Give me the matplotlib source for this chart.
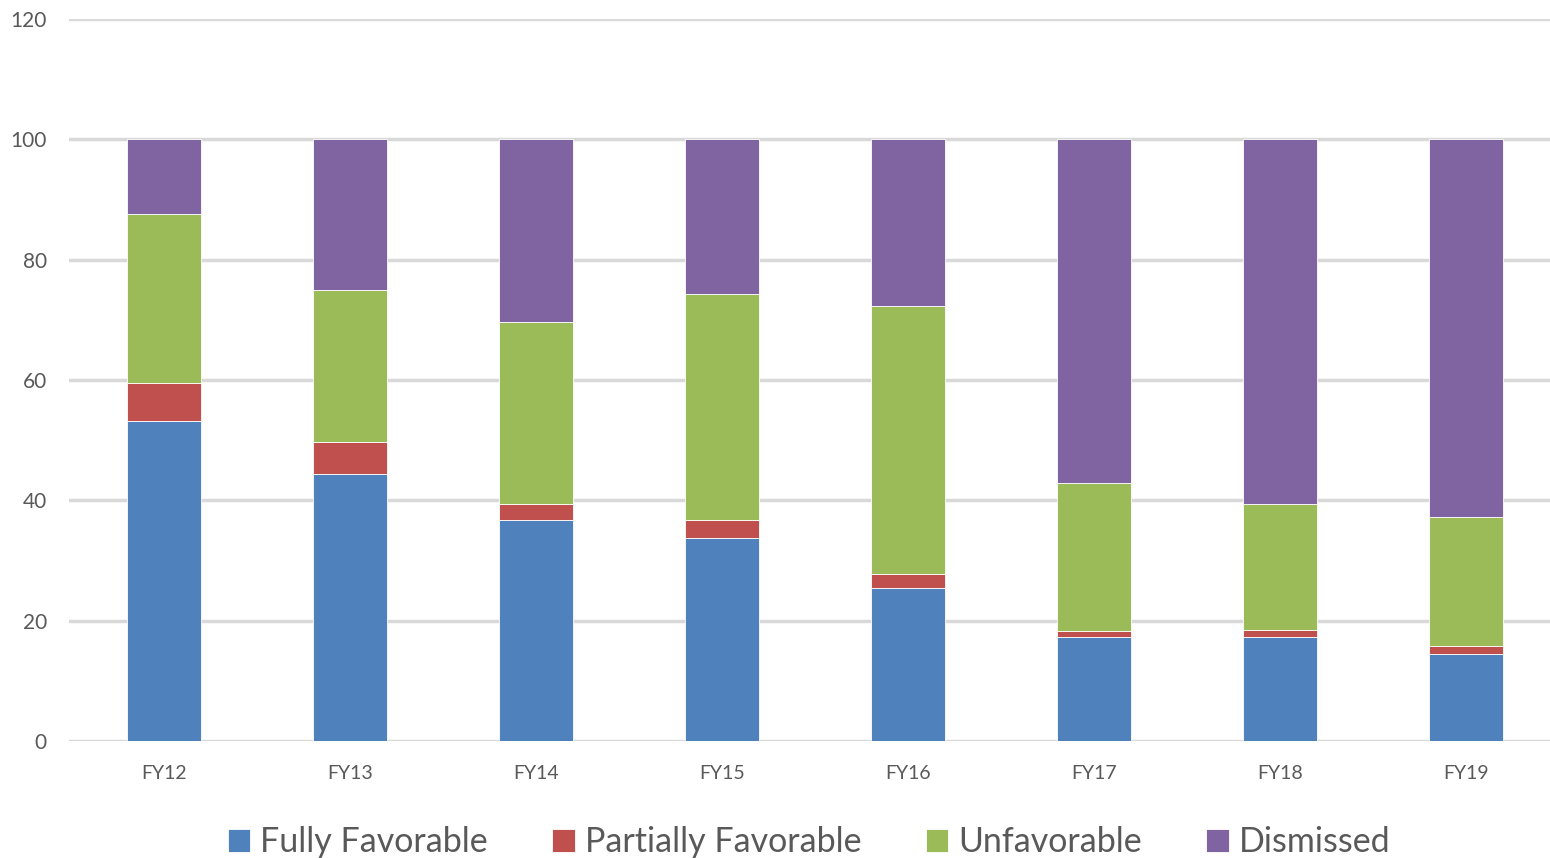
import matplotlib.pyplot as plt
import numpy as np

years = ['FY12', 'FY13', 'FY14', 'FY15', 'FY16', 'FY17', 'FY18', 'FY19']
fully_favorable = [53.2, 44.3, 36.8, 33.7, 25.5, 17.2, 17.2, 14.5]
partially_favorable = [6.3, 5.4, 2.5, 3.0, 2.3, 1.0, 1.3, 1.3]
unfavorable = [28.0, 25.3, 30.4, 37.5, 44.5, 24.6, 20.8, 21.4]
dismissed = [12.5, 25.0, 30.3, 25.8, 27.7, 57.2, 60.7, 62.8]

series = [
    ('Fully Favorable', fully_favorable, '#4f81bd'),
    ('Partially Favorable', partially_favorable, '#c0504d'),
    ('Unfavorable', unfavorable, '#9bbb59'),
    ('Dismissed', dismissed, '#8064a2'),
]

plt.rcParams['font.family'] = ['Lato', 'DejaVu Sans']

fig = plt.figure(figsize=(15.5, 8.58), dpi=100)
ax = fig.add_axes([0.0445, 0.1364, 0.9555, 0.8416])

x = np.arange(len(years))
bottom = np.zeros(len(years))
for name, vals, color in series:
    ax.bar(x, vals, 0.4, bottom=bottom, color=color, label=name,
           edgecolor='white', linewidth=0.6, zorder=3)
    bottom += np.array(vals)

ax.set_ylim(0, 120)
ax.set_xlim(-0.51, 7.45)
ax.set_yticks(range(0, 121, 20))
ax.set_xticks(x)
ax.set_xticklabels(years)
ax.yaxis.grid(True, color='#d9d9d9', linewidth=2.5, zorder=0)
ax.set_axisbelow(True)
for s in ax.spines.values():
    s.set_visible(False)
ax.tick_params(axis='y', length=0, labelsize=15, labelcolor='#595959', pad=16)
ax.tick_params(axis='x', length=0, labelsize=14, labelcolor='#595959', pad=17)

leg = fig.legend(loc='lower center', bbox_to_anchor=(0.522, -0.036), ncol=4,
                 frameon=False, fontsize=24.5, handlelength=0.65, handleheight=0.65,
                 handletextpad=0.3, columnspacing=1.9)
for t in leg.get_texts():
    t.set_color('#595959')

fig.savefig('out.png', dpi=100)
